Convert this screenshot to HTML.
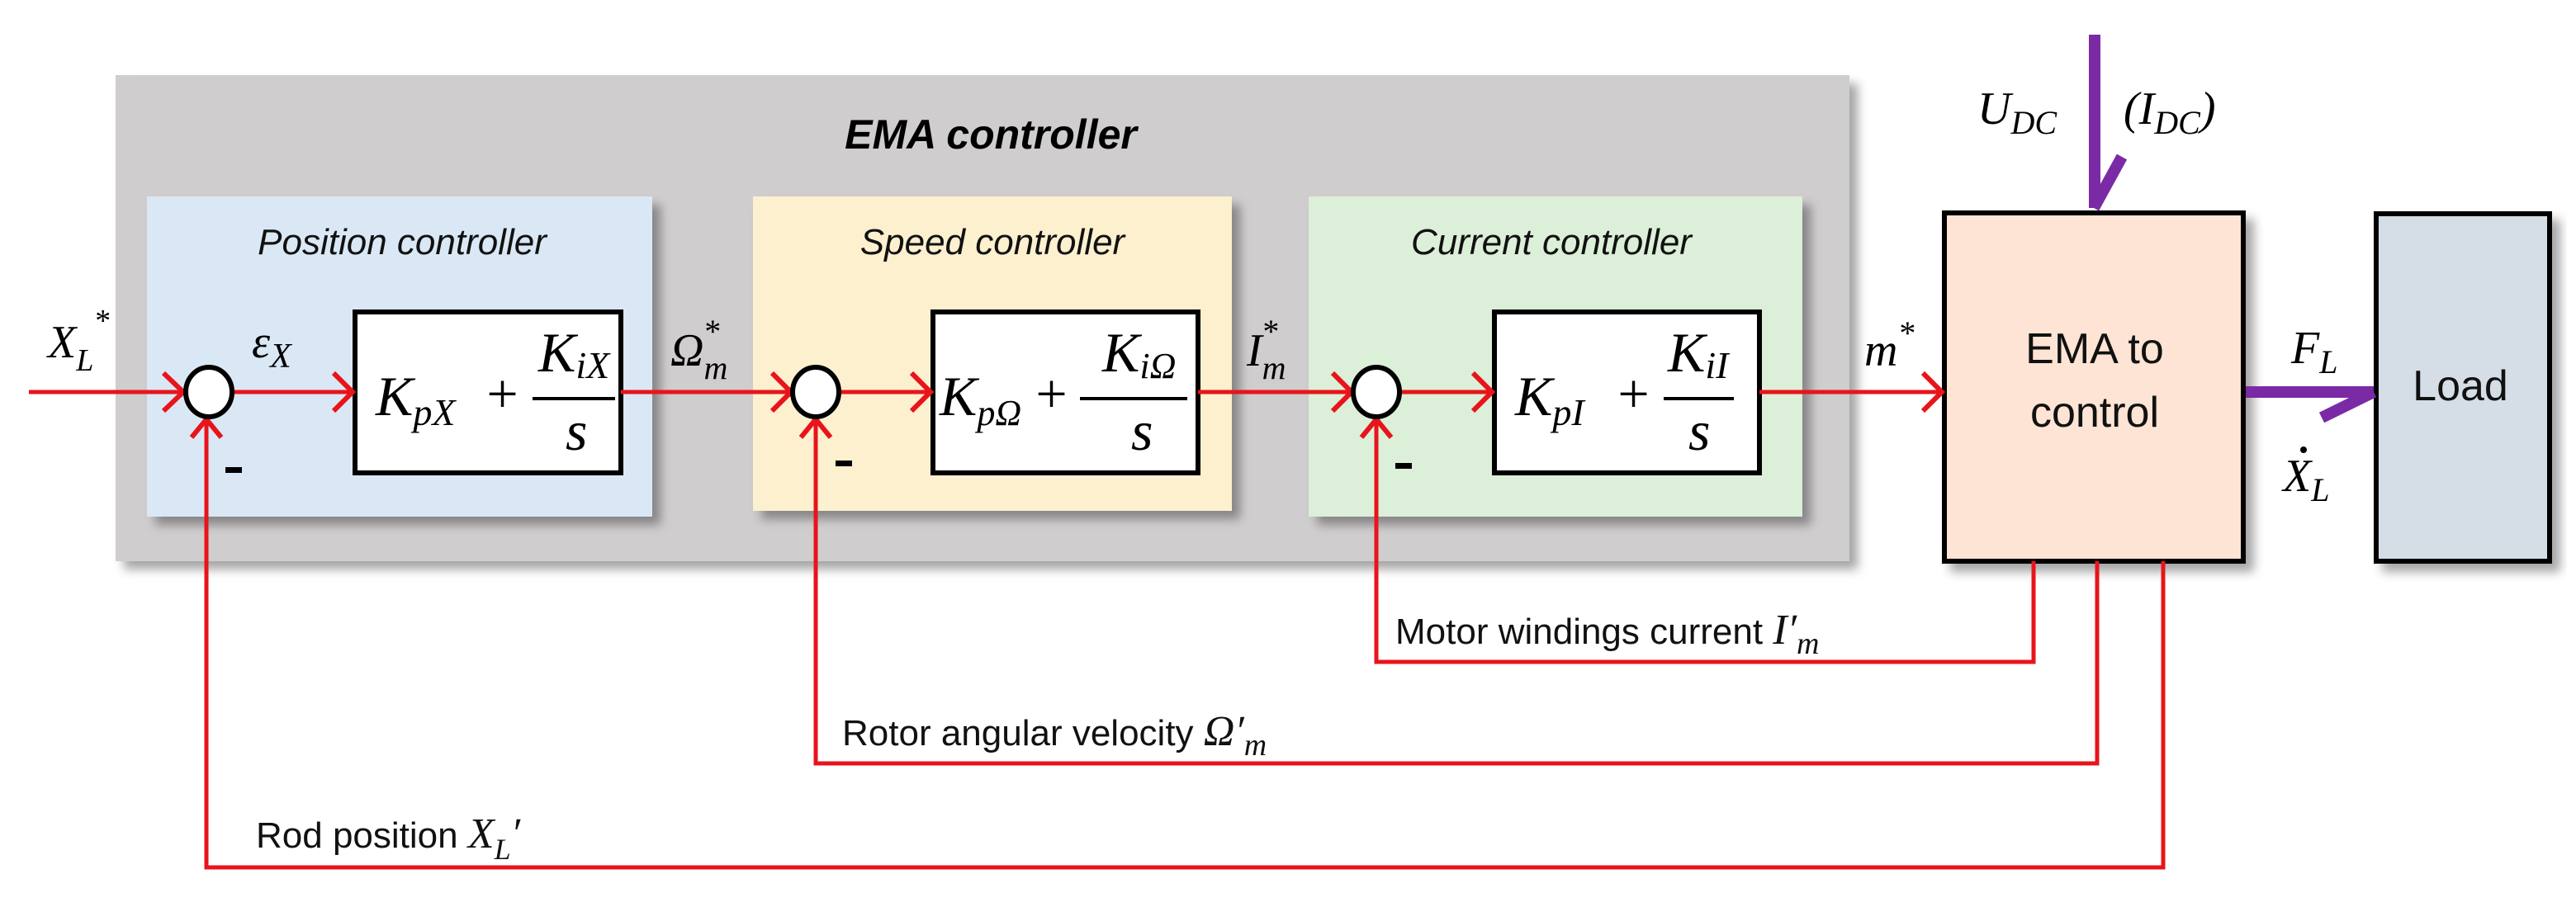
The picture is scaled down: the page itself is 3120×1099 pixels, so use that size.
<!DOCTYPE html>
<html><head><meta charset="utf-8"><style>
html,body{margin:0;padding:0;background:#fff}
svg{display:block}
.m{font-family:"Liberation Serif",serif;font-style:italic}
.s{font-family:"Liberation Sans",sans-serif}
</style></head><body>
<svg width="3120" height="1099" viewBox="0 0 3120 1099" xmlns="http://www.w3.org/2000/svg">
<defs>
<filter id="sh" x="-5%" y="-5%" width="115%" height="120%"><feDropShadow dx="10" dy="10" stdDeviation="6" flood-color="#000" flood-opacity="0.35"/></filter>
</defs>
<rect x="140" y="91" width="2100" height="589" fill="#d0cdce" filter="url(#sh)"/>
<text x="1200" y="180" text-anchor="middle" class="s" font-size="50" font-weight="bold" font-style="italic">EMA controller</text>
<rect x="178" y="238" width="612" height="388" fill="#dae8f5" filter="url(#sh)"/>
<rect x="912" y="238" width="580" height="381" fill="#fdf0cf" filter="url(#sh)"/>
<rect x="1585" y="238" width="598" height="388" fill="#dcefd8" filter="url(#sh)"/>
<g class="s" font-size="44" font-style="italic" text-anchor="middle" fill="#111">
<text x="487" y="308">Position controller</text>
<text x="1202" y="308">Speed controller</text>
<text x="1879" y="308">Current controller</text>
</g>
<g fill="#fff" stroke="#000" stroke-width="6">
<rect x="430" y="378" width="322" height="195"/>
<rect x="1130" y="378" width="321" height="195"/>
<rect x="1810" y="378" width="321" height="195"/>
</g>
<g class="m" font-size="68" fill="#000">
<text x="455" y="503">K<tspan font-size="46" dy="12">pX</tspan></text>
<text x="585" y="500">+</text>
<line x1="645" y1="483" x2="745" y2="483" stroke="#000" stroke-width="4"/>
<text x="652" y="450">K<tspan font-size="46" dy="8">iX</tspan></text>
<text x="685" y="545">s</text>

<text x="1138" y="503">K<tspan font-size="44" dy="12">pΩ</tspan></text>
<text x="1250" y="500">+</text>
<line x1="1308" y1="483" x2="1438" y2="483" stroke="#000" stroke-width="4"/>
<text x="1335" y="450">K<tspan font-size="44" dy="8">iΩ</tspan></text>
<text x="1370" y="545">s</text>

<text x="1835" y="503">K<tspan font-size="46" dy="12">pI</tspan></text>
<text x="1955" y="500">+</text>
<line x1="2015" y1="483" x2="2100" y2="483" stroke="#000" stroke-width="4"/>
<text x="2020" y="450">K<tspan font-size="46" dy="8">iI</tspan></text>
<text x="2045" y="545">s</text>
</g>
<rect x="2355" y="258" width="362" height="422" fill="#fde4d5" stroke="#000" stroke-width="6" filter="url(#sh)"/>
<rect x="2878" y="259" width="210" height="421" fill="#d5dde6" stroke="#000" stroke-width="6" filter="url(#sh)"/>
<g class="s" font-size="52" text-anchor="middle" fill="#111">
<text x="2537" y="440">EMA to</text>
<text x="2537" y="517">control</text>
<text x="2980" y="485">Load</text>
</g>
<g stroke="#e8141b" stroke-width="5" fill="none">
<line x1="35" y1="475" x2="222" y2="475"/>
<line x1="284" y1="475" x2="427" y2="475"/>
<line x1="752" y1="475" x2="958" y2="475"/>
<line x1="1018" y1="475" x2="1127" y2="475"/>
<line x1="1451" y1="475" x2="1637" y2="475"/>
<line x1="1697" y1="475" x2="1807" y2="475"/>
<line x1="2131" y1="475" x2="2352" y2="475"/>
<polyline points="2463,680 2463,802 1667,802 1667,508"/>
<polyline points="2540,680 2540,925 988,925 988,508"/>
<polyline points="2620,680 2620,1051 250,1051 250,508"/>
<g stroke-width="6">
<polyline points="198,452 222,475 198,498"/>
<polyline points="404,452 427,475 404,498"/>
<polyline points="935,452 958,475 935,498"/>
<polyline points="1104,452 1127,475 1104,498"/>
<polyline points="1614,452 1637,475 1614,498"/>
<polyline points="1784,452 1807,475 1784,498"/>
<polyline points="2329,452 2352,475 2329,498"/>
<polyline points="232,530 250,508 268,530"/>
<polyline points="970,530 988,508 1006,530"/>
<polyline points="1649,530 1667,508 1685,530"/>
</g>
</g>
<g fill="#fff" stroke="#000" stroke-width="6">
<ellipse cx="253" cy="475" rx="28" ry="30"/>
<ellipse cx="988" cy="475" rx="28" ry="30"/>
<ellipse cx="1667" cy="475" rx="28" ry="30"/>
</g>
<g fill="#000">
<rect x="273" y="566" width="20" height="7"/>
<rect x="1012" y="558" width="20" height="7"/>
<rect x="1690" y="561" width="20" height="7"/>
</g>
<g stroke="#7b2aa6" stroke-width="14" fill="none">
<line x1="2537" y1="42" x2="2537" y2="252"/>
<line x1="2536" y1="252" x2="2570" y2="190"/>
<line x1="2720" y1="475" x2="2875" y2="475"/>
<line x1="2875" y1="475" x2="2812" y2="506"/>
</g>
<g class="m" font-size="56" fill="#000">
<text x="58" y="433">X<tspan font-size="38" dy="16">L</tspan><tspan font-size="38" dy="-48">*</tspan></text>
<text x="305" y="433">ε<tspan font-size="42" dy="12">X</tspan></text>
<text x="812" y="443">Ω<tspan font-size="40" dy="16">m</tspan><tspan font-size="40" dx="-30" dy="-44">*</tspan></text>
<text x="1510" y="443">I<tspan font-size="40" dy="16">m</tspan><tspan font-size="40" dx="-30" dy="-44">*</tspan></text>
<text x="2258" y="443">m<tspan font-size="40" dy="-26">*</tspan></text>
<text x="2395" y="150">U<tspan font-size="40" dy="12">DC</tspan></text>
<text x="2572" y="150">(I<tspan font-size="40" dy="12">DC</tspan><tspan dy="-12">)</tspan></text>
<text x="2775" y="440">F<tspan font-size="40" dy="12">L</tspan></text>
<text x="2765" y="595">X<tspan font-size="40" dy="12">L</tspan></text>
</g>
<circle cx="2790" cy="545" r="4" fill="#000"/>
<g class="s" font-size="44" fill="#111">
<text x="1690" y="780">Motor windings  current <tspan class="m" font-size="52">I′<tspan font-size="38" dy="12">m</tspan></tspan></text>
<text x="1020" y="903">Rotor angular velocity <tspan class="m" font-size="52">Ω′<tspan font-size="38" dy="12">m</tspan></tspan></text>
<text x="310" y="1027">Rod position <tspan class="m" font-size="52">X<tspan font-size="36" dy="14">L</tspan><tspan dy="-14">′</tspan></tspan></text>
</g>
</svg>
</body></html>
